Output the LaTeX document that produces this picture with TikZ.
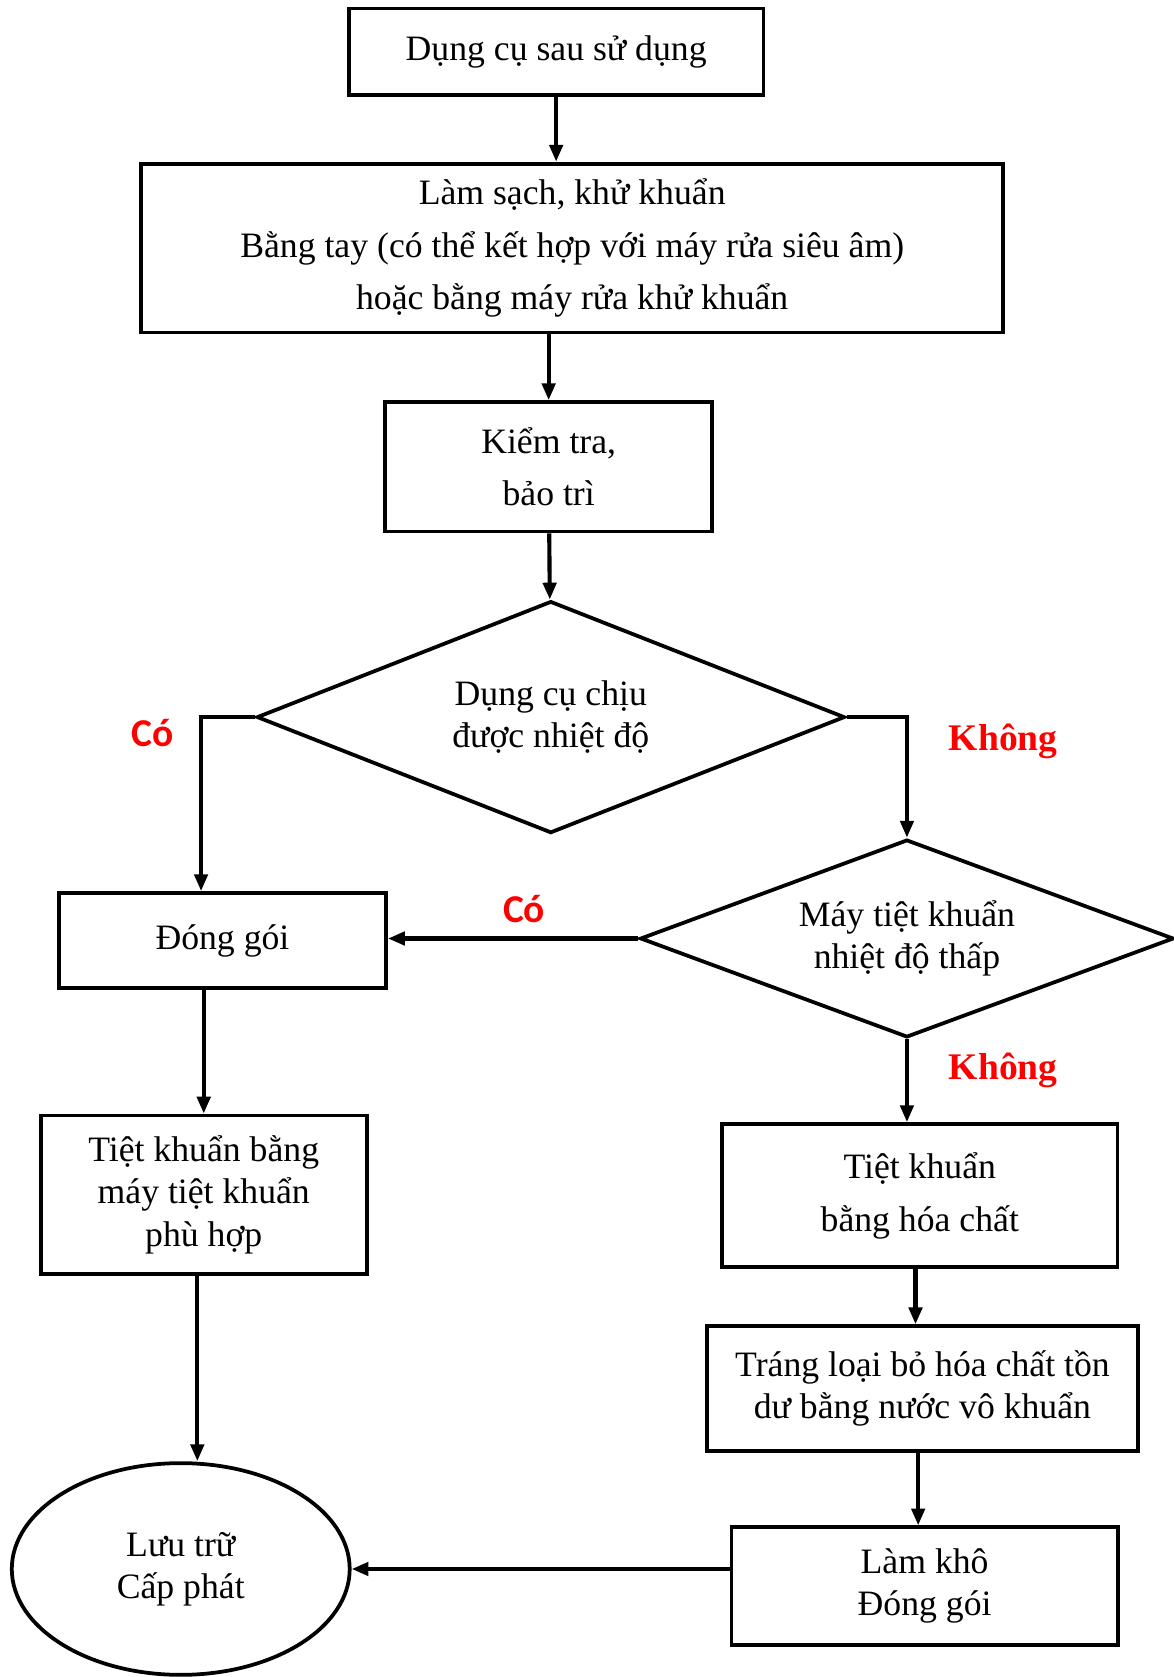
\documentclass[tikz,border=0pt]{standalone}
\usepackage{fontspec}
\setmainfont{Liberation Serif}
\newfontfamily\labelfont{Carlito}
\usetikzlibrary{shapes.geometric,arrows.meta}

\begin{document}
\begin{tikzpicture}[x=0.02cm,y=-0.02cm,
    every node/.style={line width=2pt,inner sep=0pt,align=center,font=\fontsize{19}{22.5}\selectfont},
    box/.style={draw,rectangle},
    wide/.style={font=\fontsize{19}{28}\selectfont},
    choice/.style={draw,diamond},
    arr/.style={line width=2.2pt,-{Triangle[length=9pt,width=7pt]}},
    yes/.style={text=red,font=\labelfont\bfseries\fontsize{21}{24}\selectfont},
    no/.style={text=red,font=\bfseries\fontsize{20}{24}\selectfont}]
            \useasboundingbox (0,0) rectangle (1097,1568);

            \node[box,minimum width=7.76cm,minimum height=1.62cm] (used) at (520,48.5) {Dụng cụ sau sử dụng};
            \node[box,wide,minimum width=16.12cm,minimum height=3.16cm] (clean) at (535,232) {Làm sạch, khử khuẩn\\Bằng tay (có thể kết hợp với máy rửa siêu âm)\\hoặc bằng máy rửa khử khuẩn};
            \node[box,wide,minimum width=6.12cm,minimum height=2.42cm] (check) at (513,436.5) {Kiểm tra,\\bảo trì};
            \node[choice,aspect=2.53,minimum width=11cm,minimum height=4.34cm] (heat) at (515,670.5) {Dụng cụ chịu\\được nhiệt độ};
            \node[choice,aspect=2.7,minimum width=9.98cm,minimum height=3.7cm] (lowtemp) at (848,877.5) {Máy tiệt khuẩn\\nhiệt độ thấp};

            \node[box,minimum width=6.12cm,minimum height=1.78cm] (pack) at (208,879.5) {Đóng gói};
            \node[box,minimum width=6.1cm,minimum height=2.96cm] (steril) at (190.5,1117) {Tiệt khuẩn bằng\\máy tiệt khuẩn\\phù hợp};
            \node[draw,ellipse,minimum width=6.32cm,minimum height=3.96cm] (store) at (169,1467) {Lưu trữ\\Cấp phát};

            \node[box,wide,minimum width=7.4cm,minimum height=2.68cm] (chem) at (860,1118) {Tiệt khuẩn\\bằng hóa chất};
            \node[box,minimum width=8.06cm,minimum height=2.34cm] (rinse) at (862.5,1298.5) {Tráng loại bỏ hóa chất tồn\\dư bằng nước vô khuẩn};
            \node[box,minimum width=7.22cm,minimum height=2.2cm] (dry) at (864.5,1483) {Làm khô\\Đóng gói};

            \node[yes] (yes1) at (143,685) {Có};
            \node[yes] (yes2) at (490,850) {Có};
            \node[no] (no1) at (938,693) {Không};
            \node[no] (no2) at (938,1001) {Không};

            \draw[arr] (used.south) -- (used.south |- clean.north);
            \draw[arr] (check.north |- clean.south) -- (check.north);
            \path[arr] (check) edge (heat);
            \draw[arr] (heat.west) -| ([xshift=-0.4cm]pack.north);
            \draw[arr] (heat.east) -| (lowtemp.north);
            \draw[arr] (lowtemp.west) -- (lowtemp.west -| pack.east);

            \draw[arr] (steril.north |- pack.south) -- (steril.north);
            \draw[arr] ([xshift=-0.12cm]steril.south) -- ([xshift=-0.12cm]steril.south |- store.north);

            \draw[arr] (lowtemp.south) -- (lowtemp.south |- chem.north);
            \draw[arr] ([xshift=-0.08cm]chem.south) -- ([xshift=-0.08cm]chem.south |- rinse.north);
            \draw[arr] ([xshift=-0.08cm]rinse.south) -- ([xshift=-0.08cm]rinse.south |- dry.north);
            \draw[arr] (store.east -| dry.west) -- (store.east);
        \end{tikzpicture}
\end{document}
